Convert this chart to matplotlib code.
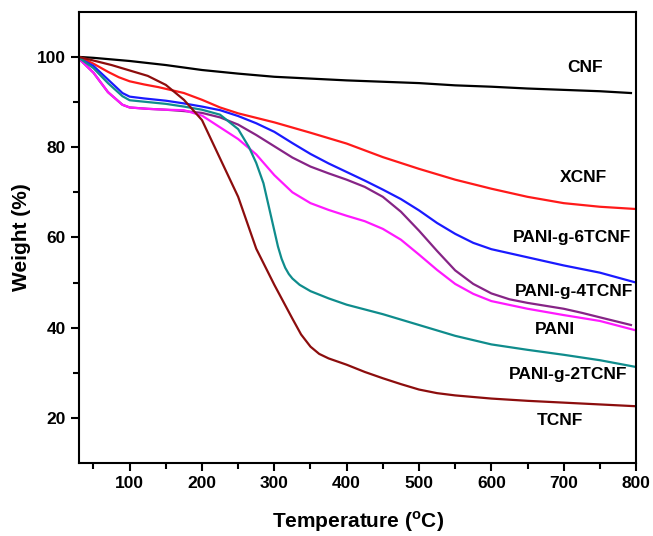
import numpy as np
import matplotlib.pyplot as plt

plt.rcParams['font.family'] = ['Liberation Sans', 'DejaVu Sans']
plt.rcParams['font.weight'] = 'bold'
plt.rcParams['mathtext.fontset'] = 'custom'
plt.rcParams['mathtext.rm'] = 'Liberation Sans:bold'

# TGA curves: temperature (C) vs weight (%)
t_cnf = [30, 50, 100, 150, 200, 250, 300, 350, 400, 450, 500, 550, 600, 650, 700, 750, 793]
w_cnf = [100, 99.8, 99.1, 98.2, 97.1, 96.3, 95.6, 95.2, 94.8, 94.5, 94.2, 93.7, 93.4, 93.0, 92.7, 92.4, 92.0]

t_xcnf = [30, 50, 70, 85, 100, 120, 140, 175, 200, 225, 250, 300, 350, 400, 450, 500, 550, 600, 650, 700,
          750, 800]
w_xcnf = [100, 98.5, 96.7, 95.5, 94.6, 93.9, 93.3, 92.0, 90.5, 88.8, 87.5, 85.5, 83.2, 80.8, 77.8, 75.2,
          72.8, 70.8, 69.0, 67.6, 66.8, 66.3]

t_6t = [30, 50, 70, 90, 100, 120, 150, 175, 200, 225, 250, 275, 300, 325, 350, 375, 400, 425, 450, 475,
        500, 525, 550, 575, 600, 650, 700, 750, 800]
w_6t = [99.7, 98.0, 95.0, 92.0, 91.2, 90.8, 90.3, 89.7, 89.0, 88.2, 86.9, 85.3, 83.4, 80.9, 78.5, 76.4,
        74.5, 72.6, 70.6, 68.5, 66.0, 63.2, 60.8, 58.8, 57.4, 55.6, 53.8, 52.2, 50.0]

t_4t = [30, 50, 70, 90, 100, 125, 150, 175, 200, 225, 250, 275, 300, 325, 350, 375, 400, 425, 450, 475,
        500, 525, 550, 575, 600, 625, 650, 700, 725, 750, 793]
w_4t = [99.6, 96.5, 92.2, 89.4, 88.8, 88.5, 88.3, 88.0, 87.6, 86.6, 85.0, 82.7, 80.2, 77.7, 75.7, 74.2,
        72.8, 71.2, 69.0, 65.7, 61.5, 57.0, 52.7, 49.7, 47.6, 46.3, 45.5, 44.2, 43.3, 42.3, 40.6]

t_pani = [30, 50, 70, 90, 100, 125, 150, 175, 200, 225, 250, 275, 300, 325, 350, 375, 400, 425, 450, 475,
          500, 525, 550, 575, 600, 650, 700, 750, 800]
w_pani = [99.6, 96.5, 92.2, 89.4, 88.8, 88.5, 88.3, 88.2, 87.0, 84.4, 81.8, 78.4, 73.8, 70.0, 67.6, 66.1,
          64.8, 63.6, 61.9, 59.5, 56.2, 52.8, 49.7, 47.5, 45.9, 44.2, 42.8, 41.5, 39.4]

t_2t = [30, 50, 70, 90, 100, 125, 150, 175, 200, 225, 250, 265, 275, 285, 295, 305, 310, 315, 320, 325,
        335, 350, 375, 400, 450, 500, 550, 600, 650, 700, 750, 800]
w_2t = [99.8, 97.5, 94.2, 91.3, 90.4, 90.0, 89.6, 89.0, 88.3, 87.2, 84.0, 80.0, 76.5, 72.0, 65.0, 58.0,
        55.3, 53.3, 51.9, 50.9, 49.5, 48.1, 46.5, 45.1, 43.0, 40.6, 38.2, 36.3, 35.1, 34.0, 32.8, 31.3]

t_tcnf = [30, 50, 75, 100, 125, 150, 175, 200, 225, 250, 275, 300, 325, 337, 350, 362, 375, 400, 425, 450,
          475, 500, 525, 550, 600, 650, 700, 750, 800]
w_tcnf = [100, 99.2, 98.2, 97.0, 95.8, 93.8, 90.5, 86.0, 77.5, 69.0, 57.5, 49.5, 42.0, 38.5, 35.8, 34.2,
          33.2, 31.8, 30.2, 28.8, 27.5, 26.3, 25.5, 25.0, 24.3, 23.8, 23.4, 23.0, 22.6]

series = [
    (t_cnf, w_cnf, 'black'),
    (t_xcnf, w_xcnf, '#ff1a1a'),
    (t_6t, w_6t, '#1a1aff'),
    (t_4t, w_4t, '#862486'),
    (t_pani, w_pani, '#ff19ff'),
    (t_2t, w_2t, '#0f8c8c'),
    (t_tcnf, w_tcnf, '#8c0d0d'),
]

labels = ['CNF', 'XCNF', 'PANI-g-6TCNF', 'PANI-g-4TCNF', 'PANI', 'PANI-g-2TCNF', 'TCNF']
label_x = [729, 727, 711, 715, 688, 706, 695]
label_y = [97.6, 73.2, 60.0, 48.1, 39.5, 29.7, 19.5]

fig = plt.figure(figsize=(6.53, 5.36), dpi=100)
ax = fig.add_axes([0.121, 0.136, 0.853, 0.842])

for t, w, c in series:
    ax.plot(t, w, color=c, lw=1.6, solid_joinstyle='round')

for name, x, y in zip(labels, label_x, label_y):
    ax.text(x, y, name, ha='center', va='center', fontsize=12.5, fontweight='bold')

ax.set_xlim(30, 800)
ax.set_ylim(10, 110)
ax.set_xticks(np.arange(100, 801, 100))
ax.set_xticks(np.arange(50, 801, 100), minor=True)
ax.set_yticks(np.arange(20, 101, 20))
ax.set_yticks(np.arange(30, 101, 20), minor=True)
ax.tick_params(which='major', direction='out', length=6, width=1.5, labelsize=12.5)
ax.tick_params(which='minor', direction='out', length=4, width=1.5)
for s in ax.spines.values():
    s.set_linewidth(1.5)

ax.set_xlabel(r'Temperature ($^{\rm o}$C)', fontsize=15, fontweight='bold', labelpad=13)
ax.set_ylabel('Weight (%)', fontsize=15, fontweight='bold', labelpad=4)

fig.savefig('out.png', dpi=100)
